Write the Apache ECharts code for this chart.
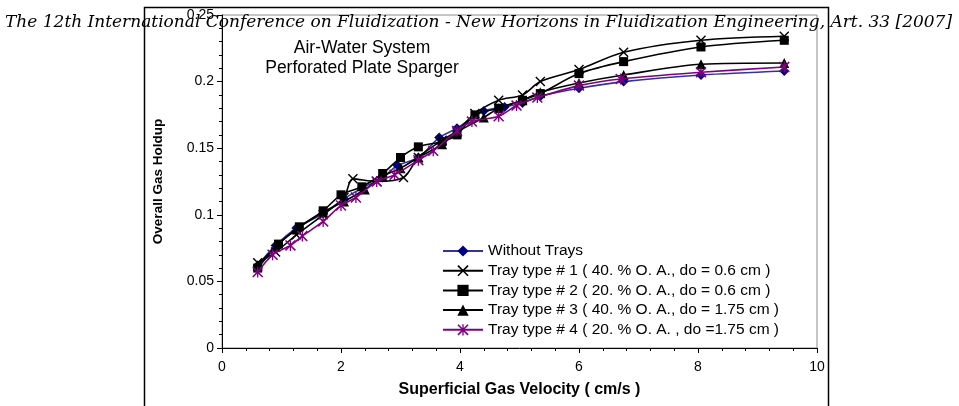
<!DOCTYPE html>
<html>
<head>
<meta charset="utf-8">
<script src="https://cdn.jsdelivr.net/npm/echarts@6/dist/echarts.min.js"></script>
<style>html,body{margin:0;padding:0;background:#fff}#c{width:959px;height:406px}</style>
</head>
<body>
<div id="c"></div>
<script>
var headerText = 'The 12th International Conference on Fluidization - New Horizons in Fluidization Engineering, Art. 33 [2007]';
var subTitle1 = 'Air-Water System';
var subTitle2 = 'Perforated Plate Sparger';
var xAxisName = 'Superficial Gas Velocity ( cm/s )';
var yAxisName = 'Overall Gas Holdup';
var seriesNames = [
  'Without Trays',
  'Tray type # 1 ( 40. % O. A., do = 0.6 cm )',
  'Tray type # 2 ( 20. % O. A., do = 0.6 cm )',
  'Tray type # 3 ( 40. % O. A., do = 1.75 cm )',
  'Tray type # 4 ( 20. % O. A. , do =1.75 cm )'
];
var xTicks = [0, 2, 4, 6, 8, 10];
var yTicks = [0, 0.05, 0.1, 0.15, 0.2, 0.25];

var x0 = [0.6, 0.9, 1.25, 1.7, 2.05, 2.35, 2.7, 2.95, 3.3, 3.65, 3.95, 4.4, 4.75, 5.05, 5.35, 6.0, 6.75, 8.05, 9.45];
var y0 = [0.062, 0.077, 0.090, 0.101, 0.112, 0.120, 0.128, 0.137, 0.143, 0.158, 0.165, 0.178, 0.181, 0.184, 0.189, 0.195, 0.200, 0.205, 0.208];

var x1 = [0.6, 0.9, 1.25, 1.7, 2.05, 2.2, 2.6, 3.05, 3.3, 3.7, 3.95, 4.25, 4.65, 5.05, 5.35, 6.0, 6.75, 8.05, 9.45];
var y1 = [0.064, 0.072, 0.085, 0.100, 0.113, 0.127, 0.125, 0.128, 0.143, 0.156, 0.163, 0.176, 0.186, 0.190, 0.200, 0.209, 0.222, 0.231, 0.234];

var x2 = [0.6, 0.95, 1.3, 1.7, 2.0, 2.35, 2.7, 3.0, 3.3, 3.7, 3.95, 4.25, 4.65, 5.05, 5.35, 6.0, 6.75, 8.05, 9.45];
var y2 = [0.060, 0.078, 0.091, 0.103, 0.115, 0.121, 0.131, 0.143, 0.151, 0.155, 0.160, 0.175, 0.180, 0.186, 0.191, 0.206, 0.215, 0.226, 0.231];

var x3 = [0.6, 0.9, 1.25, 1.7, 2.05, 2.4, 2.7, 3.0, 3.3, 3.7, 3.95, 4.4, 4.65, 5.05, 5.35, 6.0, 6.75, 8.05, 9.45];
var y3 = [0.062, 0.076, 0.089, 0.102, 0.110, 0.119, 0.129, 0.135, 0.143, 0.153, 0.162, 0.173, 0.180, 0.186, 0.192, 0.199, 0.205, 0.213, 0.214];

var x4 = [0.6, 0.85, 1.15, 1.35, 1.7, 2.0, 2.25, 2.6, 2.9, 3.3, 3.55, 3.95, 4.2, 4.65, 4.95, 5.3, 6.0, 6.7, 8.05, 9.45];
var y4 = [0.057, 0.070, 0.077, 0.084, 0.095, 0.107, 0.113, 0.125, 0.130, 0.141, 0.148, 0.163, 0.170, 0.174, 0.182, 0.188, 0.197, 0.202, 0.207, 0.211];

function pairs(xs, ys) { return xs.map(function (v, i) { return [v, ys[i]]; }); }

var X_SYM = 'path://M0,1L1,0L5,4L9,0L10,1L6,5L10,9L9,10L5,6L1,10L0,9L4,5Z';
var STAR_SYM = 'path://M0,1L1,0L5,4L9,0L10,1L6,5L10,9L9,10L5,6L1,10L0,9L4,5Z M4.4,0L5.6,0L5.6,10L4.4,10Z';

var styles = [
  { data: pairs(x0, y0), symbol: 'diamond', size: 10, fill: '#000080', line: '#333399' },
  { data: pairs(x1, y1), symbol: X_SYM, size: 10, fill: '#000000', line: '#000000' },
  { data: pairs(x2, y2), symbol: 'rect', size: 9, fill: '#000000', line: '#000000' },
  { data: pairs(x3, y3), symbol: 'triangle', size: 10, fill: '#000000', line: '#000000' },
  { data: pairs(x4, y4), symbol: STAR_SYM, size: 11, fill: '#800080', line: '#800080' }
];

var chart = echarts.init(document.getElementById('c'), null, { renderer: 'canvas' });
var font = 'Liberation Sans, Arial, sans-serif';
chart.setOption({
  animation: false,
  backgroundColor: '#ffffff',
  grid: { left: 222, right: 142, top: 15, bottom: 58, show: true, borderColor: '#8c8c8c', borderWidth: 1, backgroundColor: 'transparent' },
  xAxis: {
    type: 'value', min: xTicks[0], max: xTicks[xTicks.length - 1], interval: 2,
    name: xAxisName, nameLocation: 'middle', nameGap: 34,
    nameTextStyle: { fontFamily: font, fontSize: 16, fontWeight: 'bold', color: '#000' },
    axisLine: { show: true, onZero: false, lineStyle: { color: '#000', width: 1 } },
    axisTick: { show: true, inside: false, length: 5, lineStyle: { color: '#000' } },
    minorTick: { show: true, splitNumber: 5, length: 3, lineStyle: { color: '#000' } },
    splitLine: { show: false },
    axisLabel: { fontFamily: font, fontSize: 14, color: '#000', margin: 12 }
  },
  yAxis: {
    type: 'value', min: yTicks[0], max: yTicks[yTicks.length - 1], interval: 0.05,
    name: yAxisName, nameLocation: 'middle', nameGap: 57,
    nameTextStyle: { fontFamily: font, fontSize: 13.5, fontWeight: 'bold', color: '#000' },
    axisLine: { show: true, onZero: false, lineStyle: { color: '#000', width: 1 } },
    axisTick: { show: true, inside: false, length: 5, lineStyle: { color: '#000' } },
    minorTick: { show: true, splitNumber: 5, length: 3, lineStyle: { color: '#000' } },
    splitLine: { show: false },
    axisLabel: { fontFamily: font, fontSize: 14, color: '#000', margin: 8 }
  },
  legend: {
    orient: 'vertical', left: 442, top: 243, padding: 0,
    itemWidth: 40, itemHeight: 14, itemGap: 3.7,
    textStyle: { fontFamily: font, fontSize: 15.5, color: '#000' },
    data: seriesNames
  },
  series: styles.map(function (s, i) {
    return {
      name: seriesNames[i], type: 'line', data: s.data, smooth: 0.3,
      symbol: s.symbol, symbolSize: s.size,
      itemStyle: { color: s.fill, borderWidth: 0 },
      lineStyle: { color: s.line, width: 1.6 },
      z: 2 + i
    };
  }),
  graphic: [
    { type: 'rect', left: 142, top: 5, shape: { width: 684, height: 420 }, style: { fill: 'none', stroke: '#000', lineWidth: 1.5 }, silent: true, z: 0 },
    { type: 'text', x: 362, y: 48, style: { text: subTitle1, font: '17.5px ' + font, fill: '#000', align: 'center', verticalAlign: 'middle' }, z: 10 },
    { type: 'text', x: 362, y: 68, style: { text: subTitle2, font: '17.5px ' + font, fill: '#000', align: 'center', verticalAlign: 'middle' }, z: 10 },
    { type: 'text', x: 5, y: 23, style: { text: headerText, font: 'italic 17px "DejaVu Serif", serif', fill: '#000', align: 'left', verticalAlign: 'middle' }, z: 20 }
  ]
});
</script>
</body>
</html>
